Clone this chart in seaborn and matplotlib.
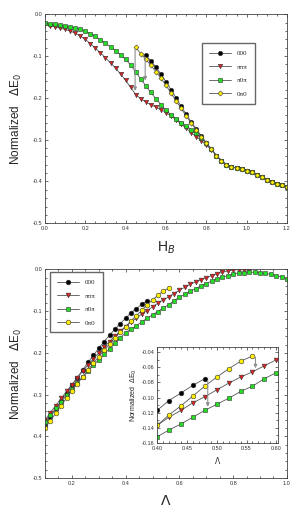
import numpy as np
import pandas as pd
import seaborn as sns
import matplotlib.pyplot as plt
from matplotlib.ticker import MultipleLocator, FormatStrFormatter

# top panel: field H_B, step 0.025
hb_all = np.round(np.arange(0, 1.2001, 0.025), 3)
tail_top = [-0.350, -0.360, -0.365, -0.368, -0.371, -0.374, -0.378,
            -0.384, -0.390, -0.396, -0.401, -0.405, -0.409, -0.413]

top_ppp = [-0.024, -0.027, -0.030, -0.033, -0.036, -0.040, -0.045, -0.052,
           -0.060, -0.070, -0.081, -0.092, -0.104, -0.116, -0.129, -0.143,
           -0.158, -0.175, -0.192, -0.202, -0.210, -0.216, -0.222, -0.228,
           -0.235, -0.243, -0.252, -0.262, -0.273, -0.283, -0.293, -0.302,
           -0.313, -0.324, -0.338] + tail_top
top_p0p = [-0.020, -0.022, -0.024, -0.026, -0.028, -0.030, -0.033, -0.036,
           -0.040, -0.046, -0.053, -0.061, -0.069, -0.078, -0.087, -0.097,
           -0.108, -0.121, -0.138, -0.155, -0.171, -0.187, -0.202, -0.216,
           -0.230, -0.240, -0.250, -0.259, -0.267, -0.276, -0.285, -0.296,
           -0.309, -0.323, -0.338] + tail_top
top_000 = [-0.098, -0.111, -0.126, -0.143, -0.161, -0.180, -0.200, -0.220,
           -0.239, -0.257, -0.274, -0.291, -0.307, -0.322, -0.338] + tail_top
top_0p0 = [-0.079, -0.094, -0.108, -0.122, -0.137, -0.153, -0.170, -0.188,
           -0.207, -0.225, -0.243, -0.260, -0.277, -0.293, -0.309, -0.323,
           -0.338] + tail_top

# bottom panel: Lambda, step 0.02
lam_all = np.round(np.arange(0.10, 1.0001, 0.02), 2)
bot_000 = [-0.372, -0.353, -0.334, -0.315, -0.296, -0.277, -0.259, -0.241,
           -0.223, -0.206, -0.189, -0.173, -0.158, -0.143, -0.130, -0.117,
           -0.104, -0.094, -0.084, -0.075]
bot_0p0 = [-0.380, -0.362, -0.344, -0.326, -0.308, -0.291, -0.274, -0.257,
           -0.241, -0.225, -0.209, -0.194, -0.179, -0.164, -0.150, -0.137,
           -0.123, -0.111, -0.098, -0.085, -0.073, -0.062, -0.052, -0.045]
bot_ppp = [-0.360, -0.343, -0.326, -0.309, -0.292, -0.276, -0.260, -0.244,
           -0.229, -0.214, -0.200, -0.186, -0.173, -0.160, -0.148, -0.137,
           -0.126, -0.117, -0.107, -0.099, -0.090, -0.081, -0.073, -0.066,
           -0.058, -0.050, -0.043, -0.036, -0.030, -0.025, -0.020, -0.015,
           -0.011, -0.007, -0.004, -0.002, -0.001, -0.001, -0.002]
bot_p0p = [-0.365, -0.349, -0.333, -0.317, -0.302, -0.287, -0.272, -0.258,
           -0.244, -0.230, -0.216, -0.203, -0.190, -0.177, -0.164, -0.152,
           -0.143, -0.135, -0.126, -0.117, -0.109, -0.101, -0.092, -0.085,
           -0.075, -0.067, -0.060, -0.053, -0.046, -0.040, -0.034, -0.028,
           -0.023, -0.019, -0.015, -0.012, -0.009, -0.008, -0.007, -0.007,
           -0.008, -0.010, -0.012, -0.015, -0.018, -0.022]

labels = ["000", "πππ", "π0π", "0π0"]
face = ["black", "#e02020", "#22dd22", "#ffee00"]
mk_top = ["o", "v", "s", "D"]
mk_bot = ["o", "v", "s", "o"]
ms_top = [3.2, 3.2, 3.0, 2.6]
ms_bot = [3.4, 3.4, 3.0, 3.4]

sns.set_style("ticks")
plt.rcParams["font.family"] = ["Liberation Sans", "DejaVu Sans"]
plt.rcParams["axes.unicode_minus"] = False

fig = plt.figure(figsize=(3.02, 5.12), dpi=100)
ax1 = fig.add_axes([0.149, 0.564, 0.801, 0.408])
ax2 = fig.add_axes([0.149, 0.066, 0.801, 0.408])
ax3 = fig.add_axes([0.520, 0.135, 0.401, 0.1875])


def draw(ax, xs, ys, markers, sizes, lab=True):
    for x, y, lb, fc, m, ms in zip(xs, ys, labels, face, markers, sizes):
        df = pd.DataFrame({"x": x, "y": y})
        sns.lineplot(data=df, x="x", y="y", ax=ax, color="#555555", lw=0.6,
                     marker=m, markersize=ms, markerfacecolor=fc,
                     markeredgecolor="#333333", markeredgewidth=0.4,
                     label=lb if lab else None, legend=False)


def style(ax, fs=4):
    ax.tick_params(which="both", direction="in", top=True, right=True,
                   labelsize=fs, pad=2, width=0.5, colors="#333333")
    ax.tick_params(which="major", length=2.5)
    ax.tick_params(which="minor", length=1.3)
    for s in ax.spines.values():
        s.set_linewidth(0.6)
        s.set_color("#444444")
    ax.set_xlabel("")
    ax.set_ylabel("")


# top
draw(ax1, [hb_all[20:], hb_all, hb_all, hb_all[18:]],
     [top_000, top_ppp, top_p0p, top_0p0], mk_top, ms_top)
ax1.set_xlim(0, 1.2)
ax1.set_ylim(-0.5, 0)
style(ax1)
ax1.xaxis.set_major_locator(MultipleLocator(0.2))
ax1.xaxis.set_minor_locator(MultipleLocator(0.05))
ax1.yaxis.set_major_locator(MultipleLocator(0.1))
ax1.yaxis.set_minor_locator(MultipleLocator(0.02))
ax1.xaxis.set_major_formatter(FormatStrFormatter("%.1f"))
ax1.yaxis.set_major_formatter(FormatStrFormatter("%.1f"))
ax1.set_xlabel("H$_B$", fontsize=10, labelpad=6)
ax1.set_ylabel("Normalized   $\\Delta$E$_0$", fontsize=8.5, labelpad=6)
arw = dict(arrowstyle="-|>", color="#909090", lw=0.8, mutation_scale=5)
ax1.annotate("", xy=(0.447, -0.19), xytext=(0.447, -0.076), arrowprops=arw)
ax1.annotate("", xy=(0.497, -0.165), xytext=(0.497, -0.096), arrowprops=arw)
ax1.legend(loc="upper left", bbox_to_anchor=(0.649, 0.861), borderaxespad=0,
           prop={"family": "Liberation Serif", "size": 5}, handlelength=3.2,
           labelspacing=1.1, borderpad=1.0, fancybox=False, framealpha=1,
           edgecolor="#666666")

# bottom
draw(ax2, [lam_all[:20], lam_all[:39], lam_all, lam_all[:24]],
     [bot_000, bot_ppp, bot_p0p, bot_0p0], mk_bot, ms_bot)
ax2.set_xlim(0.1, 1.0)
ax2.set_ylim(-0.5, 0)
style(ax2)
ax2.xaxis.set_major_locator(MultipleLocator(0.2))
ax2.xaxis.set_minor_locator(MultipleLocator(0.05))
ax2.yaxis.set_major_locator(MultipleLocator(0.1))
ax2.yaxis.set_minor_locator(MultipleLocator(0.02))
ax2.xaxis.set_major_formatter(FormatStrFormatter("%.1f"))
ax2.yaxis.set_major_formatter(FormatStrFormatter("%.1f"))
ax2.set_xlabel("$\\Lambda$", fontsize=10, labelpad=6)
ax2.set_ylabel("Normalized   $\\Delta$E$_0$", fontsize=8.5, labelpad=6)
ax2.legend(loc="upper left", bbox_to_anchor=(0.021, 0.986), borderaxespad=0,
           prop={"family": "Liberation Serif", "size": 5}, handlelength=3.2,
           labelspacing=1.1, borderpad=1.0, fancybox=False, framealpha=1,
           edgecolor="#666666")

# inset
draw(ax3, [lam_all[:20], lam_all[:39], lam_all, lam_all[:24]],
     [bot_000, bot_ppp, bot_p0p, bot_0p0], mk_bot, ms_bot, lab=False)
ax3.set_xlim(0.40, 0.603)
ax3.set_ylim(-0.16, -0.033)
style(ax3)
ax3.xaxis.set_major_locator(MultipleLocator(0.05))
ax3.xaxis.set_minor_locator(MultipleLocator(0.01))
ax3.yaxis.set_major_locator(MultipleLocator(0.02))
ax3.yaxis.set_minor_locator(MultipleLocator(0.01))
ax3.xaxis.set_major_formatter(FormatStrFormatter("%.2f"))
ax3.yaxis.set_major_formatter(FormatStrFormatter("%.2f"))
ax3.set_xlabel("$\\Lambda$", fontsize=5.5, labelpad=3)
ax3.set_ylabel("Normalized  $\\Delta$E$_0$", fontsize=5, labelpad=2)
ax3.annotate("", xy=(0.485, -0.116), xytext=(0.485, -0.074), arrowprops=arw)
ax3.annotate("", xy=(0.565, -0.065), xytext=(0.565, -0.043), arrowprops=arw)

fig.savefig("out.png", dpi=100)
